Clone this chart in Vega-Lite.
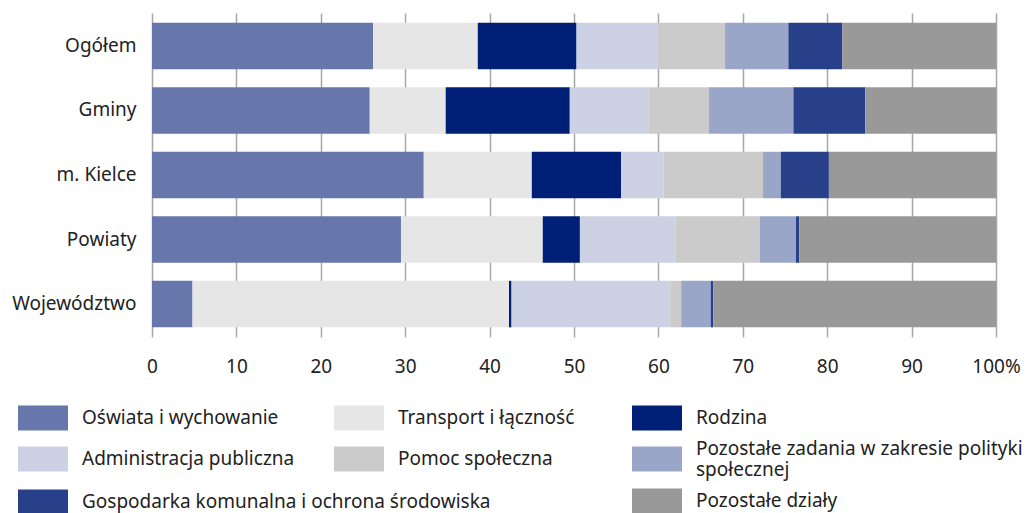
{
  "$schema": "https://vega.github.io/schema/vega-lite/v6.json",
  "width": 844,
  "height": 324,
  "autosize": "none",
  "padding": {"left": 152, "top": 13, "right": 37, "bottom": 176},
  "background": "white",
  "data": {
    "values": [
      {"jst": "Ogółem", "kat": "Oświata i wychowanie", "v": 26.2},
      {"jst": "Ogółem", "kat": "Transport i łączność", "v": 12.4},
      {"jst": "Ogółem", "kat": "Rodzina", "v": 11.7},
      {"jst": "Ogółem", "kat": "Administracja publiczna", "v": 9.6},
      {"jst": "Ogółem", "kat": "Pomoc społeczna", "v": 8.0},
      {"jst": "Ogółem", "kat": "Pozostałe zadania w zakresie polityki społecznej", "v": 7.5},
      {"jst": "Ogółem", "kat": "Gospodarka komunalna i ochrona środowiska", "v": 6.4},
      {"jst": "Ogółem", "kat": "Pozostałe działy", "v": 18.2},
      {"jst": "Gminy", "kat": "Oświata i wychowanie", "v": 25.8},
      {"jst": "Gminy", "kat": "Transport i łączność", "v": 9.0},
      {"jst": "Gminy", "kat": "Rodzina", "v": 14.7},
      {"jst": "Gminy", "kat": "Administracja publiczna", "v": 9.3},
      {"jst": "Gminy", "kat": "Pomoc społeczna", "v": 7.2},
      {"jst": "Gminy", "kat": "Pozostałe zadania w zakresie polityki społecznej", "v": 10.0},
      {"jst": "Gminy", "kat": "Gospodarka komunalna i ochrona środowiska", "v": 8.5},
      {"jst": "Gminy", "kat": "Pozostałe działy", "v": 15.5},
      {"jst": "m. Kielce", "kat": "Oświata i wychowanie", "v": 32.2},
      {"jst": "m. Kielce", "kat": "Transport i łączność", "v": 12.8},
      {"jst": "m. Kielce", "kat": "Rodzina", "v": 10.6},
      {"jst": "m. Kielce", "kat": "Administracja publiczna", "v": 5.0},
      {"jst": "m. Kielce", "kat": "Pomoc społeczna", "v": 11.8},
      {"jst": "m. Kielce", "kat": "Pozostałe zadania w zakresie polityki społecznej", "v": 2.1},
      {"jst": "m. Kielce", "kat": "Gospodarka komunalna i ochrona środowiska", "v": 5.7},
      {"jst": "m. Kielce", "kat": "Pozostałe działy", "v": 19.8},
      {"jst": "Powiaty", "kat": "Oświata i wychowanie", "v": 29.5},
      {"jst": "Powiaty", "kat": "Transport i łączność", "v": 16.8},
      {"jst": "Powiaty", "kat": "Rodzina", "v": 4.4},
      {"jst": "Powiaty", "kat": "Administracja publiczna", "v": 11.3},
      {"jst": "Powiaty", "kat": "Pomoc społeczna", "v": 10.0},
      {"jst": "Powiaty", "kat": "Pozostałe zadania w zakresie polityki społecznej", "v": 4.3},
      {"jst": "Powiaty", "kat": "Gospodarka komunalna i ochrona środowiska", "v": 0.4},
      {"jst": "Powiaty", "kat": "Pozostałe działy", "v": 23.3},
      {"jst": "Województwo", "kat": "Oświata i wychowanie", "v": 4.8},
      {"jst": "Województwo", "kat": "Transport i łączność", "v": 37.5},
      {"jst": "Województwo", "kat": "Rodzina", "v": 0.3},
      {"jst": "Województwo", "kat": "Administracja publiczna", "v": 18.8},
      {"jst": "Województwo", "kat": "Pomoc społeczna", "v": 1.3},
      {"jst": "Województwo", "kat": "Pozostałe zadania w zakresie polityki społecznej", "v": 3.5},
      {"jst": "Województwo", "kat": "Gospodarka komunalna i ochrona środowiska", "v": 0.3},
      {"jst": "Województwo", "kat": "Pozostałe działy", "v": 33.5}
    ]
  },
  "transform": [
    {"stack": "v", "groupby": ["jst"], "as": ["x0", "x1"]}
  ],
  "encoding": {
    "y": {
      "field": "jst", "type": "nominal", "title": null,
      "scale": {"domain": ["Ogółem", "Gminy", "m. Kielce", "Powiaty", "Województwo"], "paddingInner": 0.28, "paddingOuter": 0.15},
      "axis": {"domain": false, "ticks": false, "labelPadding": 16, "labelFontSize": 19, "labelFont": "Noto Sans", "labelColor": "#222222"}
    },
    "x": {
      "field": "x0", "type": "quantitative", "title": null,
      "scale": {"domain": [0, 100], "nice": false},
      "axis": {"values": [0, 10, 20, 30, 40, 50, 60, 70, 80, 90, 100], "domain": false, "ticks": false, "grid": true, "gridColor": "#a6a6a6", "gridWidth": 1.5, "labelPadding": 20, "labelFontSize": 19, "labelFont": "Noto Sans", "labelColor": "#222222", "labelExpr": "datum.value == 100 ? '100%' : datum.label", "labelFlush": false}
    },
    "x2": {"field": "x1"}
  },
  "layer": [
    {"transform": [{"filter": "datum.kat == 'Oświata i wychowanie'"}], "mark": "bar",
     "encoding": {"color": {"field": "kat", "type": "nominal", "scale": {"domain": ["Oświata i wychowanie"], "range": ["#6777ab"]}, "legend": {"legendX": -134, "legendY": 380}}}},
    {"transform": [{"filter": "datum.kat == 'Transport i łączność'"}], "mark": "bar",
     "encoding": {"color": {"field": "kat", "type": "nominal", "scale": {"domain": ["Transport i łączność"], "range": ["#e6e6e6"]}, "legend": {"legendX": 182, "legendY": 380}}}},
    {"transform": [{"filter": "datum.kat == 'Rodzina'"}], "mark": "bar",
     "encoding": {"color": {"field": "kat", "type": "nominal", "scale": {"domain": ["Rodzina"], "range": ["#001f77"]}, "legend": {"legendX": 480, "legendY": 380}}}},
    {"transform": [{"filter": "datum.kat == 'Administracja publiczna'"}], "mark": "bar",
     "encoding": {"color": {"field": "kat", "type": "nominal", "scale": {"domain": ["Administracja publiczna"], "range": ["#ccd2e4"]}, "legend": {"legendX": -134, "legendY": 421}}}},
    {"transform": [{"filter": "datum.kat == 'Pomoc społeczna'"}], "mark": "bar",
     "encoding": {"color": {"field": "kat", "type": "nominal", "scale": {"domain": ["Pomoc społeczna"], "range": ["#cbcbcb"]}, "legend": {"legendX": 182, "legendY": 421}}}},
    {"transform": [{"filter": "datum.kat == 'Pozostałe zadania w zakresie polityki społecznej'"}], "mark": "bar",
     "encoding": {"color": {"field": "kat", "type": "nominal", "scale": {"domain": ["Pozostałe zadania w zakresie polityki społecznej"], "range": ["#99a6c8"]}, "legend": {"legendX": 480, "legendY": 421, "labelExpr": "['Pozostałe zadania w zakresie polityki', 'społecznej']", "encode": {"labels": {"update": {"dy": {"value": -10}}}}}}}},
    {"transform": [{"filter": "datum.kat == 'Gospodarka komunalna i ochrona środowiska'"}], "mark": "bar",
     "encoding": {"color": {"field": "kat", "type": "nominal", "scale": {"domain": ["Gospodarka komunalna i ochrona środowiska"], "range": ["#283f8a"]}, "legend": {"legendX": -134, "legendY": 464}}}},
    {"transform": [{"filter": "datum.kat == 'Pozostałe działy'"}], "mark": "bar",
     "encoding": {"color": {"field": "kat", "type": "nominal", "scale": {"domain": ["Pozostałe działy"], "range": ["#999999"]}, "legend": {"legendX": 480, "legendY": 463}}}}
  ],
  "resolve": {"scale": {"color": "independent"}, "legend": {"color": "independent"}},
  "config": {
    "view": {"stroke": null},
    "legend": {
      "orient": "none",
      "title": null,
      "padding": 0,
      "symbolType": "M-1,-0.5H1V0.5H-1Z",
      "symbolSize": 2500,
      "symbolStrokeWidth": 0,
      "symbolOpacity": 1,
      "labelFont": "Noto Sans",
      "labelFontSize": 19,
      "labelColor": "#222222",
      "labelOffset": 14,
      "labelLimit": 600
    }
  }
}
